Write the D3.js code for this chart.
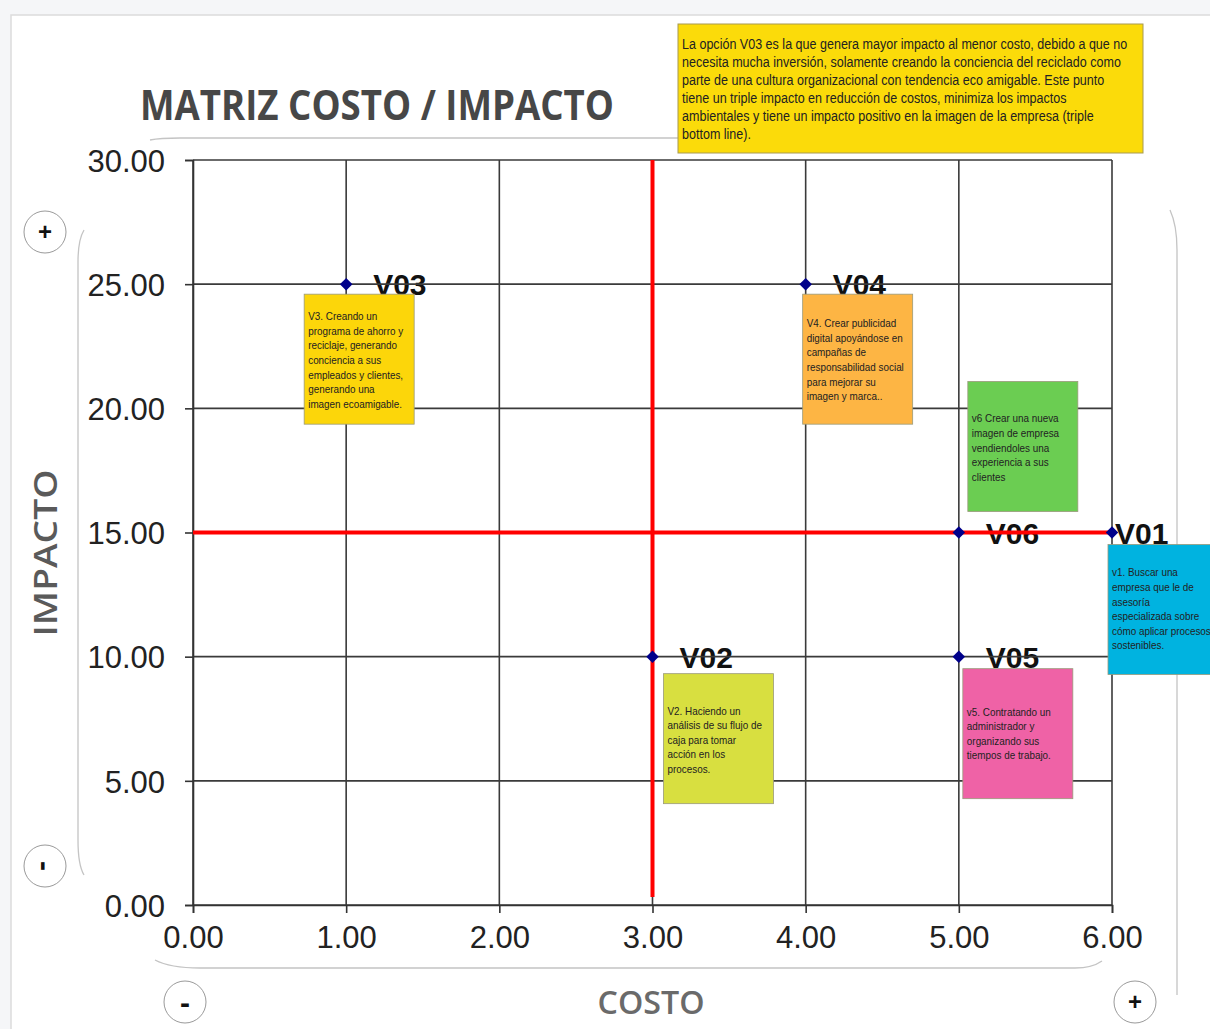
<!DOCTYPE html>
<head>
  <meta charset="utf-8">
  <script src="https://d3js.org/d3.v7.min.js"></script>
  <style>
    body { margin: 0; background: #f5f6f8; }
    svg { display: block; }
    .tick text { font-family: Arial, "Liberation Sans", sans-serif; fill: #222; }
    .nota { font-family: Arial, "Liberation Sans", sans-serif; fill: #222; }
  </style>
</head>
<body>
<svg id="chart" width="1210" height="1029"></svg>
<script>
  // datos
  const opciones = ["V01", "V02", "V03", "V04", "V05", "V06"];
  const costo = [6, 3, 1, 4, 5, 5];
  const impacto = [15, 10, 25, 25, 10, 15];
  const costoTicks = [0, 1, 2, 3, 4, 5, 6];
  const impactoTicks = [0, 5, 10, 15, 20, 25, 30];
  const costoCorte = 3;
  const impactoCorte = 15;

  const notas = [
    ["v1. Buscar una", "empresa que le de", "asesoría", "especializada sobre", "cómo aplicar procesos", "sostenibles."],
    ["V2. Haciendo un", "análisis de su flujo de", "caja para tomar", "acción en los", "procesos."],
    ["V3. Creando un", "programa de ahorro y", "reciclaje, generando", "conciencia a sus", "empleados y clientes,", "generando una", "imagen ecoamigable."],
    ["V4. Crear publicidad", "digital apoyándose en", "campañas de", "responsabilidad social", "para mejorar su", "imagen y marca.."],
    ["v5. Contratando un", "administrador y", "organizando sus", "tiempos de trabajo."],
    ["v6 Crear una nueva", "imagen de empresa", "vendiendoles una", "experiencia a sus", "clientes"]
  ];
  const conclusion = [
    "La opción V03 es la que genera mayor impacto al menor costo, debido a que no",
    "necesita mucha inversión, solamente creando la conciencia del reciclado como",
    "parte de una cultura organizacional con tendencia eco amigable. Este punto",
    "tiene un triple impacto en reducción de costos, minimiza los impactos",
    "ambientales y tiene un impacto positivo en la imagen de la empresa (triple",
    "bottom line)."
  ];

  // posicion de cada nota y etiqueta respecto a su punto (px)
  const notaOffset = [[-4, 12], [11, 17], [-42, 10], [-3, 10], [4, 12], [9, -151]];
  const notaTextoY = [32, 41, 26, 33, 47, 41];
  const etiquetaDx = [3, 27, 27, 27, 27, 27];
  const notaColor = ["#00b3e0", "#d8df40", "#fcd60a", "#fdb544", "#ef62a6", "#6bcd52"];

  const svg = d3.select("#chart");

  // tarjeta blanca
  svg.append("rect").attr("x", 11).attr("y", 15).attr("width", 1210).attr("height", 1030)
    .attr("fill", "#fff").attr("stroke", "#dcdcdc").attr("stroke-width", 1.5);

  const x = d3.scaleLinear().domain([0, 6]).range([193, 1112]);
  const y = d3.scaleLinear().domain([0, 30]).range([905, 160]);

  // lineas decorativas grises
  const deco = svg.append("g").attr("fill", "none").attr("stroke", "#c4c4c4").attr("stroke-width", 1.3);
  deco.append("path").attr("d", "M150,140 Q160,138 180,138 L678,138");
  deco.append("path").attr("d", "M84,230 Q78,240 78,262 L78,840 Q78,865 84,875");
  deco.append("path").attr("d", "M155,960 Q170,968 200,968 L1075,968 Q1092,968 1102,961");
  deco.append("path").attr("d", "M1170,210 Q1177,225 1177,250 L1177,995");

  const pts = opciones.map((o, i) => ({ o, c: costo[i], im: impacto[i], i }));

  // etiquetas (debajo de las lineas, como en el original)
  svg.append("g").selectAll("text").data(pts).join("text")
    .attr("x", d => x(d.c) + etiquetaDx[d.i]).attr("y", d => y(d.im) + 11)
    .attr("font-family", "Arial, 'Liberation Sans', sans-serif")
    .attr("font-weight", "bold").attr("font-size", 30).attr("fill", "#111")
    .text(d => d.o);

  // rejilla
  const grid = svg.append("g").attr("stroke", "#3a3a3a").attr("stroke-width", 1.6);
  grid.selectAll(".gv").data(costoTicks).join("line")
    .attr("x1", d => x(d)).attr("x2", d => x(d)).attr("y1", y(30)).attr("y2", y(0));
  grid.selectAll(".gh").data(impactoTicks).join("line")
    .attr("x1", x(0)).attr("x2", x(6)).attr("y1", d => y(d)).attr("y2", d => y(d));

  // ejes
  const fmt = d3.format(".2f");
  const ejeY = svg.append("g").attr("transform", `translate(${x(0)},0)`)
    .call(d3.axisLeft(y).tickValues(impactoTicks).tickFormat(fmt).tickSize(8).tickPadding(20));
  const ejeX = svg.append("g").attr("transform", `translate(0,${y(0)})`)
    .call(d3.axisBottom(x).tickValues(costoTicks).tickFormat(fmt).tickSize(8).tickPadding(12));
  [ejeY, ejeX].forEach(g => {
    g.select(".domain").attr("stroke", "#333").attr("stroke-width", 1.6);
    g.selectAll(".tick line").attr("stroke", "#333").attr("stroke-width", 1.6);
    g.selectAll(".tick text").attr("font-size", 31).attr("fill", "#222");
  });
  ejeY.selectAll(".tick text").attr("dy", "0.36em");
  ejeX.selectAll(".tick text").attr("dy", "0.75em");

  // lineas rojas de corte
  svg.append("line").attr("x1", x(costoCorte)).attr("x2", x(costoCorte))
    .attr("y1", y(30)).attr("y2", y(0) - 8)
    .attr("stroke", "#ff0000").attr("stroke-width", 4);
  svg.append("line").attr("x1", x(0)).attr("x2", x(6))
    .attr("y1", y(impactoCorte)).attr("y2", y(impactoCorte))
    .attr("stroke", "#ff0000").attr("stroke-width", 4);

  // puntos
  svg.append("g").selectAll("path").data(pts).join("path")
    .attr("d", d3.symbol(d3.symbolDiamond2, 100))
    .attr("transform", d => `translate(${x(d.c)},${y(d.im)})`)
    .attr("fill", "#00008b");

  // notas
  const nota = svg.append("g").selectAll("g").data(pts).join("g")
    .attr("transform", d => `translate(${x(d.c) + notaOffset[d.i][0]},${y(d.im) + notaOffset[d.i][1]})`);
  nota.append("rect").attr("width", 110).attr("height", 130)
    .attr("fill", d => notaColor[d.i]).attr("stroke", "#9a9a7a").attr("stroke-width", 0.8);
  nota.append("text").attr("class", "nota").attr("font-size", 10.3)
    .attr("transform", "scale(0.96,1)")
    .selectAll("tspan").data(d => notas[d.i].map(t => [t, d.i])).join("tspan")
    .attr("x", 4.2).attr("y", (t, k) => notaTextoY[t[1]] + k * 14.6).text(t => t[0]);

  // conclusion
  const concl = svg.append("g").attr("transform", "translate(678,24)");
  concl.append("rect").attr("width", 465).attr("height", 129)
    .attr("fill", "#fbdb0a").attr("stroke", "#a89a50").attr("stroke-width", 1);
  concl.append("text").attr("class", "nota").attr("font-size", 14.5)
    .attr("transform", "translate(4,0) scale(0.865,1)")
    .selectAll("tspan").data(conclusion).join("tspan")
    .attr("x", 0).attr("y", (t, k) => 25 + k * 18).text(t => t);

  // titulo
  svg.append("text").attr("x", 140).attr("y", 120)
    .attr("font-family", "'Open Sans', 'Noto Sans', sans-serif").attr("font-weight", 700)
    .attr("font-size", 41).attr("fill", "#474747")
    .attr("textLength", 474).attr("lengthAdjust", "spacingAndGlyphs")
    .text("MATRIZ COSTO / IMPACTO");

  // titulos de ejes
  svg.append("text").attr("transform", "translate(57,553) rotate(-90)")
    .attr("text-anchor", "middle").attr("font-family", "'Open Sans', sans-serif").attr("font-weight", 600)
    .attr("font-size", 33).attr("fill", "#5a5a5a")
    .attr("textLength", 167).attr("lengthAdjust", "spacingAndGlyphs")
    .text("IMPACTO");
  svg.append("text").attr("x", 651).attr("y", 1014)
    .attr("text-anchor", "middle").attr("font-family", "'Open Sans', sans-serif").attr("font-weight", 600)
    .attr("font-size", 33).attr("fill", "#6a6a6a")
    .attr("textLength", 107).attr("lengthAdjust", "spacingAndGlyphs")
    .text("COSTO");

  // botones + / -
  const botones = [
    { cx: 45, cy: 232, s: "+", rot: 0, fs: 24 },
    { cx: 45, cy: 866, s: "-", rot: 90, fs: 30 },
    { cx: 185, cy: 1002, s: "-", rot: 0, fs: 30 },
    { cx: 1135, cy: 1002, s: "+", rot: 0, fs: 24 }
  ];
  const b = svg.append("g").selectAll("g").data(botones).join("g")
    .attr("transform", d => `translate(${d.cx},${d.cy})`);
  b.append("circle").attr("r", 21).attr("fill", "#fff").attr("stroke", "#9a9a9a").attr("stroke-width", 1);
  b.append("text").attr("transform", d => `rotate(${d.rot})`)
    .attr("text-anchor", "middle").attr("dy", "0.35em")
    .attr("font-family", "Arial, sans-serif").attr("font-weight", "bold").attr("font-size", d => d.fs)
    .attr("fill", "#111").text(d => d.s);
</script>
</body>
